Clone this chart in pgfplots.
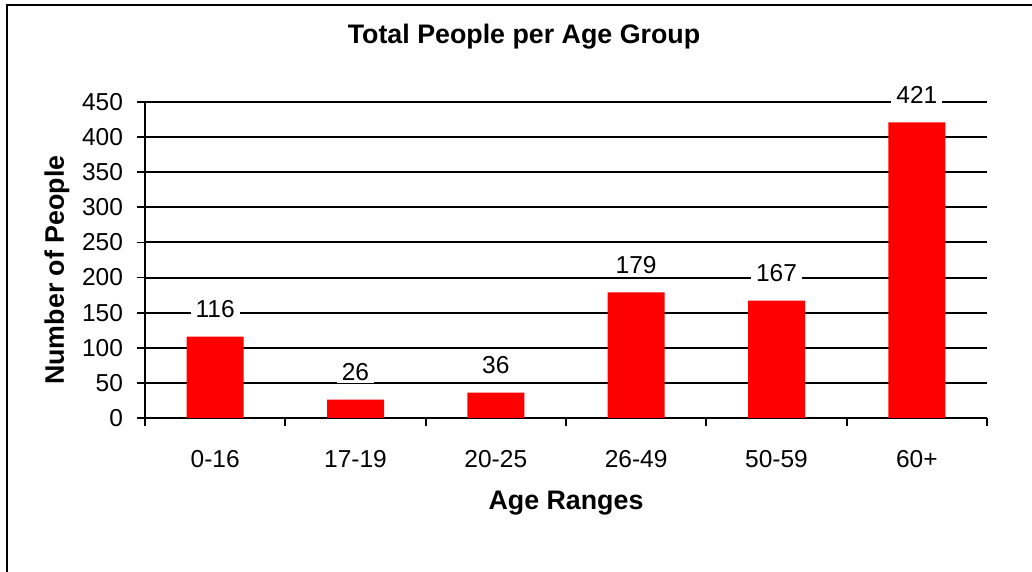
\documentclass[border=0pt]{standalone}
\usepackage{pgfplots}
\pgfplotsset{compat=1.18}
\usepackage{fontspec}
\setmainfont{Liberation Sans}
\definecolor{barred}{RGB}{255,0,0}
\begin{document}
\begin{tikzpicture}
\useasboundingbox (0,0) rectangle (516pt,286pt);
\draw[line width=1.1pt] (3.5pt,-5pt) -- (3.5pt,283.5pt) -- (520pt,283.5pt);
\node[anchor=base, font=\bfseries\fontsize{13.4}{16}\selectfont] at (262pt,264pt) {Total People per Age Group};
\begin{axis}[
  at={(72.5pt,77pt)}, anchor=south west,
  scale only axis, width=421pt, height=158pt,
  ybar, bar width=28.5pt,
  xmin=-0.5, xmax=5.5, ymin=0, ymax=450,
  ytick={0,50,...,450},
  xtick={-0.5,0.5,1.5,2.5,3.5,4.5,5.5},
  xticklabels={0-16,17-19,20-25,26-49,50-59,60+,{}},
  x tick label style={xshift=35.08pt, yshift=-8.5pt},
  y tick label style={xshift=-3.5pt},
  axis x line*=bottom, axis y line*=left,
  axis line style={line width=1pt, black, -},
  tick align=outside, major tick length=4pt,
  tick style={line width=0.9pt, black},
  ymajorgrids, grid style={line width=1pt, black},
  /pgf/number format/assume math mode=true,
  tick label style={font=\fontsize{12.25}{14}\selectfont},
  xlabel={Age Ranges}, ylabel={Number of People},
  every axis x label/.style={at={(axis description cs:0.5,-0.291)}, anchor=base, font=\bfseries\fontsize{13.4}{16}\selectfont},
  every axis y label/.style={at={(axis description cs:-0.1045,0.468)}, anchor=center, rotate=90, font=\bfseries\fontsize{13.4}{16}\selectfont},
  nodes near coords,
  every node near coord/.append style={anchor=center, yshift=13.8pt, fill=white, inner xsep=2.5pt, inner ysep=1pt, font=\fontsize{12.25}{14}\selectfont, text=black},
]
\addplot[fill=barred, draw=none] coordinates {(0,116) (1,26) (2,36) (3,179) (4,167) (5,421)};
\end{axis}
\end{tikzpicture}
\end{document}
